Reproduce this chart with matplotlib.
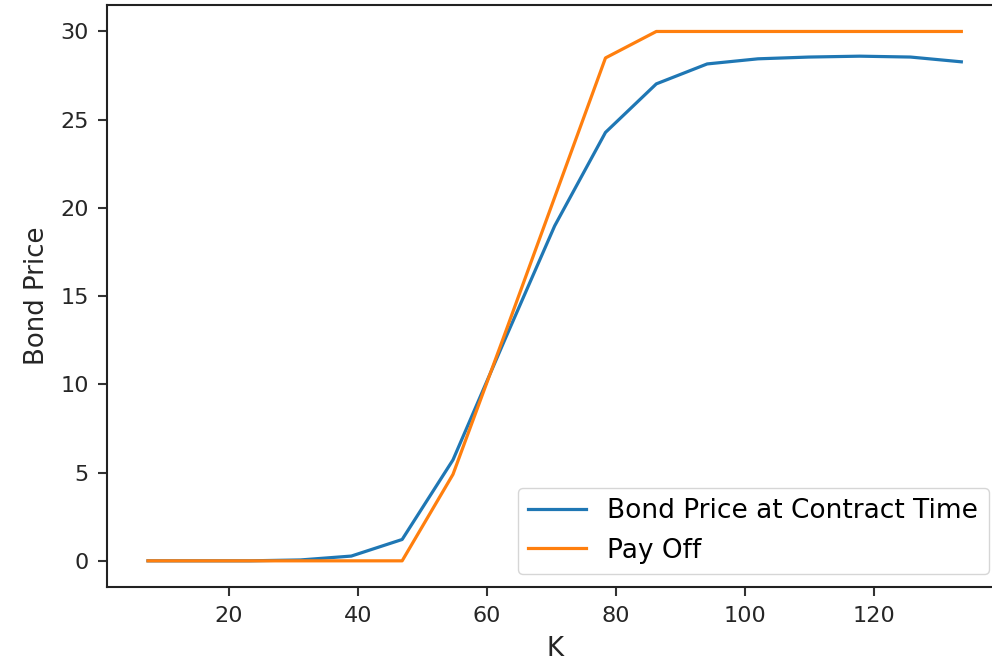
import matplotlib
matplotlib.use('Agg')
import matplotlib.pyplot as plt

# strike values K
K = [7.5, 15.375, 23.25, 31.125, 39.0, 46.875, 54.75, 62.625, 70.5,
     78.375, 86.25, 94.125, 102.0, 109.875, 117.75, 125.625, 133.5]

bond_price = [0.0, 0.0, 0.0, 0.05, 0.27, 1.21, 5.72, 12.4, 18.98,
              24.28, 27.03, 28.16, 28.45, 28.55, 28.6, 28.55, 28.28]

pay_off = [0.0, 0.0, 0.0, 0.0, 0.0, 0.0, 4.9, 12.7, 20.6,
           28.5, 30.0, 30.0, 30.0, 30.0, 30.0, 30.0, 30.0]

W, H = 992, 669
fig = plt.figure(figsize=(W / 100, H / 100), dpi=100)
left, right, top, bottom = 107.3, 1002, 5, 587.3
ax = fig.add_axes([left / W, 1 - bottom / H, (right - left) / W, (bottom - top) / H])

ax.plot(K, bond_price, color='#1f77b4', lw=2.3, label='Bond Price at Contract Time')
ax.plot(K, pay_off, color='#ff7f0e', lw=2.3, label='Pay Off')

ax.set_xlabel('K', fontsize=18.7, labelpad=7.6, color='#262626')
ax.set_ylabel('Bond Price', fontsize=18.7, labelpad=7.6, color='#262626')
ax.tick_params(labelsize=16.1, length=6.6, width=1.5, pad=6.6,
               labelcolor='#262626', color='#333333')
for s in ax.spines.values():
    s.set_linewidth(1.5)
    s.set_color('#222222')
ax.spines['right'].set_visible(False)
ax.set_yticks([0, 5, 10, 15, 20, 25, 30])
ax.set_xticks([20, 40, 60, 80, 100, 120])
ax.legend(loc='lower right', fontsize=19, handlelength=2.2)

fig.savefig('out.png', dpi=100)
